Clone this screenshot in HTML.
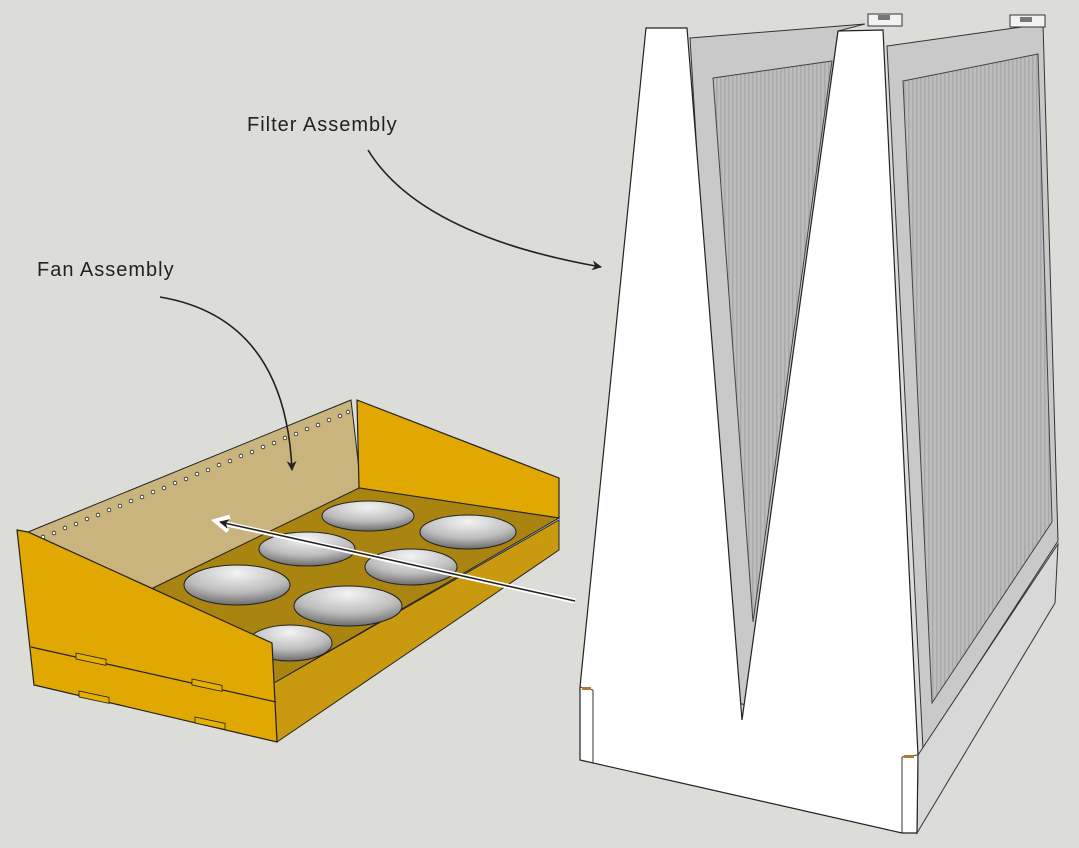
<!DOCTYPE html>
<html><head><style>
html,body{margin:0;padding:0;background:#dcdcd8;}
svg{display:block}
text{font-family:"Liberation Sans",sans-serif;font-size:20px;fill:#222;letter-spacing:1px}
</style></head><body>
<svg width="1079" height="848" viewBox="0 0 1079 848" xmlns="http://www.w3.org/2000/svg">
<defs>
<pattern id="pl" width="4" height="10" patternUnits="userSpaceOnUse">
<rect width="4" height="10" fill="#bdbdbd"/><rect width="1.5" height="10" fill="#a9a9a9"/>
</pattern>
<radialGradient id="hole" cx="0.5" cy="0.2" r="0.8">
<stop offset="0" stop-color="#f4f4f4"/><stop offset="0.6" stop-color="#bdbdbd"/><stop offset="1" stop-color="#6d6d6d"/>
</radialGradient>
<marker id="ah" markerWidth="10" markerHeight="10" refX="9" refY="5" orient="auto" markerUnits="userSpaceOnUse">
<path d="M0,0 L10,5 L0,10 L3,5 Z" fill="#222"/></marker>
</defs>

<!-- Filter assembly -->
<!-- right filter frame -->
<polygon points="887,46 1043,24 1058,541 923,749" fill="#c9c9c9" stroke="#333" stroke-width="1"/>
<polygon points="903,81 1038,54 1052,522 932,703" fill="url(#pl)" stroke="#444" stroke-width="1"/>
<!-- left filter frame -->
<polygon points="690,38 865,24 838,31 745,705 730,700" fill="#c9c9c9" stroke="#333" stroke-width="1"/>
<polygon points="713,78 832,61 753,622" fill="url(#pl)" stroke="#444" stroke-width="1"/>
<!-- clips -->
<rect x="868" y="14" width="34" height="12" fill="#f2f2f2" stroke="#333"/>
<rect x="878" y="15" width="12" height="5" fill="#777"/>
<rect x="1010" y="15" width="35" height="12" fill="#f2f2f2" stroke="#333"/>
<rect x="1020" y="17" width="12" height="5" fill="#777"/>
<!-- base right -->
<polygon points="918,755 1058,544 1055,603 917,833" fill="#d8d8d8" stroke="#333" stroke-width="1"/>
<!-- white M -->
<polygon points="646,28 687,28 742,720 838,31 883,30 918,755 917,833 902,833 580,760 580,687" fill="#fff" stroke="#222" stroke-width="1.2"/>
<line x1="902" y1="757" x2="902" y2="833" stroke="#333"/>
<line x1="902" y1="757" x2="918" y2="755" stroke="#333"/>
<line x1="580" y1="687" x2="593" y2="690" stroke="#333"/>
<line x1="593" y1="690" x2="593" y2="763" stroke="#333"/>
<rect x="582" y="687" width="9" height="3" fill="#b07a30"/>
<rect x="904" y="755" width="10" height="3" fill="#b07a30"/>

<!-- Fan assembly -->
<polygon points="28,532 351,400 362,495 153,590 272,643" fill="#c8b47c" stroke="#222" stroke-width="1"/>
<polygon points="357,400 559,478 559,518 359,488" fill="#e0a800" stroke="#222" stroke-width="1.2"/>
<polygon points="153,588 359,488 559,518 274,683" fill="#a98410" stroke="#222" stroke-width="1"/>
<polygon points="274,683 559,520 559,550 277,742" fill="#c99a10" stroke="#222" stroke-width="1"/>
<g stroke="#222" stroke-width="1" fill="url(#hole)">
<ellipse cx="368" cy="516" rx="46" ry="15"/>
<ellipse cx="468" cy="532" rx="48" ry="17"/>
<ellipse cx="307" cy="549" rx="48" ry="17"/>
<ellipse cx="411" cy="567" rx="46" ry="18"/>
<ellipse cx="237" cy="585" rx="53" ry="20"/>
<ellipse cx="348" cy="606" rx="54" ry="20"/>
<ellipse cx="290" cy="643" rx="42" ry="18"/>
</g>
<g fill="#fff" stroke="#222" stroke-width="0.8">
<circle cx="43" cy="537" r="1.8"/><circle cx="54" cy="533" r="1.8"/><circle cx="65" cy="528" r="1.8"/><circle cx="76" cy="524" r="1.8"/><circle cx="87" cy="519" r="1.8"/><circle cx="98" cy="515" r="1.8"/><circle cx="109" cy="510" r="1.8"/><circle cx="120" cy="506" r="1.8"/><circle cx="131" cy="501" r="1.8"/><circle cx="142" cy="497" r="1.8"/><circle cx="153" cy="492" r="1.8"/><circle cx="164" cy="488" r="1.8"/><circle cx="175" cy="483" r="1.8"/><circle cx="186" cy="479" r="1.8"/><circle cx="197" cy="474" r="1.8"/><circle cx="208" cy="470" r="1.8"/><circle cx="219" cy="465" r="1.8"/><circle cx="230" cy="461" r="1.8"/><circle cx="241" cy="456" r="1.8"/><circle cx="252" cy="452" r="1.8"/><circle cx="263" cy="447" r="1.8"/><circle cx="274" cy="443" r="1.8"/><circle cx="285" cy="438" r="1.8"/><circle cx="296" cy="434" r="1.8"/><circle cx="307" cy="429" r="1.8"/><circle cx="318" cy="425" r="1.8"/><circle cx="329" cy="420" r="1.8"/><circle cx="340" cy="416" r="1.8"/><circle cx="348" cy="412" r="1.8"/>
</g>
<!-- left face -->
<polygon points="17,530 28,532 272,643 277,742 34,685" fill="#e0a800" stroke="#222" stroke-width="1.2"/>
<line x1="31" y1="647" x2="276" y2="702" stroke="#222" stroke-width="1.2"/>
<g fill="#e6b000" stroke="#222" stroke-width="0.8">
<rect x="76" y="653" width="30" height="6" transform="skewY(12)" transform-origin="76 653"/>
<rect x="192" y="679" width="30" height="6" transform="skewY(12)" transform-origin="192 679"/>
<rect x="79" y="691" width="30" height="6" transform="skewY(12)" transform-origin="79 691"/>
<rect x="195" y="717" width="30" height="6" transform="skewY(12)" transform-origin="195 717"/>
</g>

<!-- arrows -->
<path d="M368,150 Q420,235 601,267" fill="none" stroke="#222" stroke-width="1.6" marker-end="url(#ah)"/>
<path d="M160,297 Q285,318 292,470" fill="none" stroke="#222" stroke-width="1.6" marker-end="url(#ah)"/>
<path d="M575,601 L218,522" fill="none" stroke="#fff" stroke-width="5"/>
<path d="M230,517 L216,521 L228,531" fill="none" stroke="#fff" stroke-width="5"/>
<path d="M575,601 L220,522" fill="none" stroke="#222" stroke-width="1.6" marker-end="url(#ah)"/>

<text x="247" y="131">Filter Assembly</text>
<text x="37" y="276">Fan Assembly</text>
</svg>
</body></html>
